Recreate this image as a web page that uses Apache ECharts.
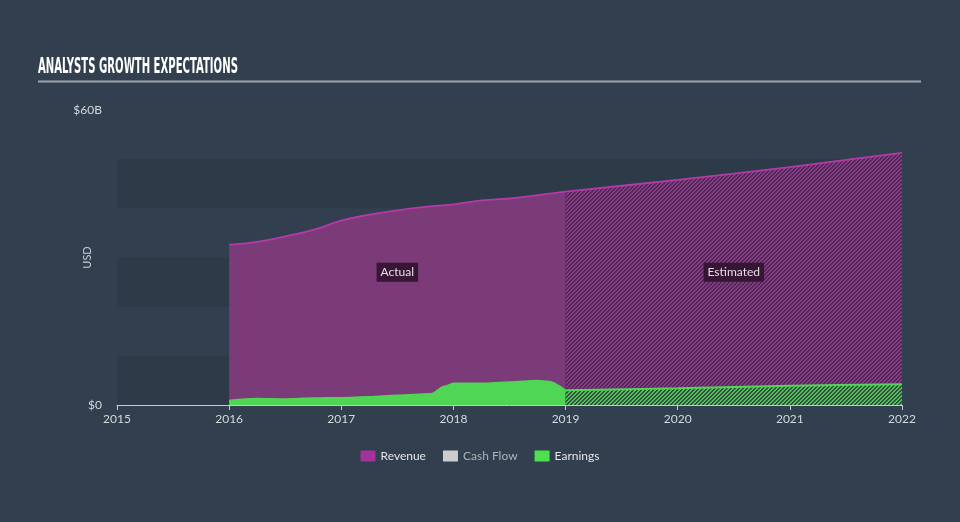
<!DOCTYPE html>
<html>
<head>
<meta charset="utf-8">
<script src="https://cdn.jsdelivr.net/npm/echarts@6/dist/echarts.min.js"></script>
<style>
html,body{margin:0;padding:0;background:#323f4f;}
#c{width:960px;height:522px;}
</style>
</head>
<body>
<div id="c"></div>
<script>
// ---- data ----
const actualYears = [2016.0, 2016.25, 2016.5, 2016.75, 2017.0, 2017.25, 2017.5, 2017.75, 2018.0, 2018.25, 2018.5, 2018.75, 2019.0];
const revenueActual = [32.6, 33.2, 34.3, 35.6, 37.5, 38.7, 39.6, 40.3, 40.8, 41.6, 42.0, 42.7, 43.4];
const earningsYears = [2016.0, 2016.25, 2016.5, 2016.75, 2017.0, 2017.25, 2017.5, 2017.8, 2017.92, 2018.0, 2018.25, 2018.5, 2018.75, 2018.85, 2019.0];
const earningsActual = [0.9, 1.3, 1.2, 1.4, 1.5, 1.7, 2.0, 2.3, 3.8, 4.4, 4.4, 4.7, 5.0, 4.8, 3.0];
const estimateYears = [2019, 2020, 2021, 2022];
const revenueEstimate = [43.4, 45.8, 48.4, 51.3];
const earningsEstimate = [3.0, 3.4, 3.9, 4.2];
const xTicks = [2015, 2016, 2017, 2018, 2019, 2020, 2021, 2022];
const yTickLabels = {0: '$0', 60: '$60B'};
const regionLabels = [{name: 'Actual', x: 2017.5, y: 27}, {name: 'Estimated', x: 2020.5, y: 27}];

function pairs(xs, ys){ return xs.map((x,i)=>[x, ys[i]]); }

function hatch(stripe, gap){
  const c = document.createElement('canvas');
  c.width = 8; c.height = 8;
  const ctx = c.getContext('2d');
  const img = ctx.createImageData(8,8);
  function hex(h){return [parseInt(h.substr(1,2),16),parseInt(h.substr(3,2),16),parseInt(h.substr(5,2),16)];}
  const s = hex(stripe), g = hex(gap);
  for(let y=0;y<8;y++)for(let x=0;x<8;x++){
    const on = ((x+y)%4) < 2;
    const col = on ? s : g;
    const i = (y*8+x)*4;
    img.data[i]=col[0];img.data[i+1]=col[1];img.data[i+2]=col[2];img.data[i+3]=255;
  }
  ctx.putImageData(img,0,0);
  return c;
}

const REV_LINE = '#b43aa8', REV_FILL = '#7b3a78', EARN = '#4fd655';
const FONT = 'Lato, "Open Sans", sans-serif';

const chart = echarts.init(document.getElementById('c'), null, {renderer:'canvas'});
chart.setOption({
  backgroundColor: '#323f4f',
  animation: false,
  grid: {left: 117, right: 58, top: 110, bottom: 117},
  graphic: [
    {type:'text', x: 38, y: 56, scaleX: 0.51, scaleY: 1,
      style:{text:'ANALYSTS GROWTH EXPECTATIONS', fill:'#ffffff', font:'bold 22px "DejaVu Sans Condensed", "Liberation Sans Narrow", sans-serif'}},
    {type:'line', shape:{x1:38, y1:81.5, x2:921, y2:81.5}, style:{stroke:'#9ea6b0', lineWidth:2}}
  ],
  legend: {
    bottom: 55, left: 'center', itemWidth: 15, itemHeight: 11, itemGap: 17,
    textStyle: {color:'#e4e6e8', fontSize: 12, fontFamily: FONT},
    data: [
      {name:'Revenue', icon:'rect', itemStyle:{color:'#a3339a'}},
      {name:'Cash Flow', icon:'rect', itemStyle:{color:'#cccccc'}, textStyle:{color:'#aeb3b8'}},
      {name:'Earnings', icon:'rect', itemStyle:{color:'#4fe050'}}
    ],
    selectedMode: false
  },
  xAxis: {
    type:'value', min: 2015, max: 2022, interval: 1,
    axisLine:{show:true, lineStyle:{color:'#c4cad2', width:1}},
    axisTick:{show:true, length:5, lineStyle:{color:'#c4cad2'}},
    axisLabel:{color:'#d4d8dc', fontSize:12, fontFamily: FONT, margin: 8,
      formatter: v => xTicks.includes(v) ? String(v) : ''},
    splitLine:{show:false}
  },
  yAxis: {
    type:'value', min:0, max:60, interval:10,
    name:'USD', nameLocation:'middle', nameGap: 24, nameMoveOverlap: false,
    nameTextStyle:{color:'#c8ccd2', fontSize:11, fontFamily: FONT},
    axisLine:{show:false}, axisTick:{show:false},
    axisLabel:{color:'#d4d8dc', fontSize:12, fontFamily: FONT, margin: 15,
      formatter: v => yTickLabels[v] || ''},
    splitLine:{show:false},
    splitArea:{show:true, areaStyle:{color:['#2d3a48','rgba(0,0,0,0)']}}
  },
  series: [
    {name:'Revenue', type:'line', data: pairs(actualYears, revenueActual), smooth:0.5,
      showSymbol:false, lineStyle:{color:REV_LINE, width:1.8}, itemStyle:{color:REV_LINE},
      areaStyle:{color:REV_FILL, opacity:1}, z:2,
      markPoint:{symbol:'rect', symbolSize:1, itemStyle:{color:'rgba(0,0,0,0)'},
        label:{show:true, position:'inside', color:'#e6dde6', fontSize:12, fontFamily: FONT,
          backgroundColor:'rgba(45,18,42,0.85)', padding:[4,4,3,4],
          formatter: p => p.name},
        data: regionLabels.map(r => ({name:r.name, coord:[r.x, r.y]}))}
    },
    {name:'Revenue', type:'line', data: pairs(estimateYears, revenueEstimate), smooth:0.3,
      showSymbol:false, lineStyle:{color:REV_LINE, width:1.8}, itemStyle:{color:REV_LINE},
      areaStyle:{color:{image: hatch('#8a3a88','#4d2a52'), repeat:'repeat'}, opacity:1}, z:2},
    {name:'Cash Flow', type:'line', data: [], itemStyle:{color:'#cccccc'}},
    {name:'Earnings', type:'line', data: pairs(earningsYears, earningsActual), smooth:0.3, smoothMonotone:'x',
      showSymbol:false, lineStyle:{color:EARN, width:1.5}, itemStyle:{color:EARN},
      areaStyle:{color:EARN, opacity:1}, z:3},
    {name:'Earnings', type:'line', data: pairs(estimateYears, earningsEstimate), smooth:0.3,
      showSymbol:false, lineStyle:{color:EARN, width:2}, itemStyle:{color:EARN},
      areaStyle:{color:{image: hatch('#4cc454','#3a4a44'), repeat:'repeat'}, opacity:1}, z:3}
  ]
});
</script>
</body>
</html>
